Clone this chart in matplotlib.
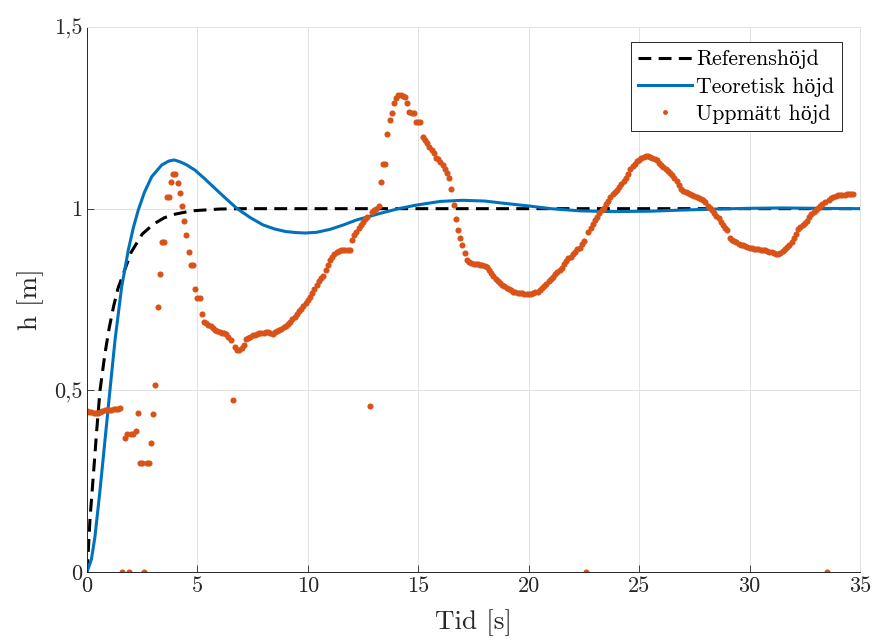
import matplotlib.pyplot as plt
import numpy as np

plt.rcParams['font.family'] = ['cmr10', 'Liberation Serif']
plt.rcParams['mathtext.fontset'] = 'cm'
plt.rcParams['axes.unicode_minus'] = False

# referenshöjd
t_ref = [0, 0.06, 0.14, 0.26, 0.44, 0.59, 0.81, 1.0, 1.2, 1.4, 1.64, 2.0, 2.5,
         3.0, 3.5, 4.0, 4.74, 6.0, 7.0, 35]
h_ref = [0, 0.06, 0.15, 0.244, 0.39, 0.50, 0.60, 0.67, 0.73, 0.78, 0.82, 0.88, 0.93,
         0.957, 0.975, 0.985, 0.994, 0.999, 1.0, 1.0]

# teoretisk höjd (simulerad)
t_teo = [0, 0.2, 0.36, 0.5, 0.59, 0.74, 0.89, 1.04, 1.27, 1.57, 1.87, 2.1, 2.32,
         2.6, 2.93, 3.38, 3.7, 3.95, 4.21, 4.5, 4.89, 5.3, 5.72, 6.25, 6.78, 7.4,
         7.98, 8.5, 9.0, 9.5, 9.9, 10.4, 11.0, 11.6, 12.21, 13.27, 14.1, 14.93,
         16.0, 17.0, 18.0, 18.85, 20.06, 21.0, 22.32, 23.83, 25.5, 26.85, 28.5,
         30, 31.5, 33, 35]
h_teo = [0, 0.035, 0.097, 0.175, 0.226, 0.317, 0.409, 0.501, 0.639, 0.785, 0.886,
         0.948, 0.996, 1.045, 1.088, 1.120, 1.131, 1.134, 1.129, 1.121, 1.106,
         1.084, 1.060, 1.030, 1.001, 0.975, 0.955, 0.944, 0.937, 0.934, 0.933,
         0.935, 0.943, 0.955, 0.969, 0.987, 1.000, 1.010, 1.020, 1.023, 1.021,
         1.015, 1.007, 1.000, 0.994, 0.992, 0.993, 0.996, 0.999, 1.001, 1.002,
         1.001, 1.000]

# uppmätt höjd, ett sampel var 0.1 s (en rad per sekund)
h_meas = [
    0.443, 0.441, 0.440, 0.438, 0.437, 0.438, 0.441, 0.444, 0.446, 0.447,
    0.447, 0.447, 0.448, 0.448, 0.450, 0.451, 0.0, 0.368, 0.379, 0.0,
    0.379, 0.380, 0.388, 0.437, 0.299, 0.299, 0.0, 0.299, 0.299, 0.354,
    0.434, 0.515, 0.728, 0.819, 0.907, 0.907, 1.033, 1.033, 1.074, 1.095,
    1.095, 1.070, 1.042, 1.008, 0.967, 0.927, 0.882, 0.845, 0.845, 0.778,
    0.753, 0.753, 0.710, 0.689, 0.684, 0.680, 0.677, 0.671, 0.667, 0.664,
    0.660, 0.658, 0.657, 0.655, 0.646, 0.638, 0.473, 0.618, 0.611, 0.611,
    0.616, 0.625, 0.640, 0.645, 0.648, 0.652, 0.652, 0.655, 0.657, 0.657,
    0.658, 0.660, 0.661, 0.657, 0.656, 0.660, 0.663, 0.666, 0.669, 0.673,
    0.678, 0.683, 0.689, 0.695, 0.702, 0.710, 0.718, 0.725, 0.733, 0.741,
    0.749, 0.758, 0.769, 0.780, 0.790, 0.800, 0.810, 0.816, 0.832, 0.845,
    0.859, 0.866, 0.874, 0.880, 0.884, 0.886, 0.886, 0.886, 0.886, 0.886,
    0.915, 0.928, 0.937, 0.946, 0.955, 0.962, 0.971, 0.978, 0.457, 0.990,
    0.995, 1.000, 1.008, 1.074, 1.123, 1.123, 1.205, 1.244, 1.262, 1.292,
    1.305, 1.313, 1.313, 1.310, 1.306, 1.290, 1.267, 1.262, 1.262, 1.239,
    1.239, 1.239, 1.198, 1.190, 1.182, 1.171, 1.162, 1.152, 1.140, 1.136,
    1.128, 1.120, 1.108, 1.098, 1.085, 1.054, 1.010, 0.971, 0.941, 0.918,
    0.900, 0.879, 0.859, 0.853, 0.851, 0.849, 0.848, 0.847, 0.846, 0.845,
    0.843, 0.840, 0.832, 0.823, 0.815, 0.807, 0.800, 0.795, 0.791, 0.787,
    0.783, 0.778, 0.775, 0.772, 0.770, 0.769, 0.768, 0.767, 0.766, 0.765,
    0.764, 0.765, 0.767, 0.770, 0.772, 0.776, 0.782, 0.788, 0.794, 0.800,
    0.806, 0.813, 0.819, 0.826, 0.831, 0.838, 0.848, 0.857, 0.863, 0.868,
    0.874, 0.880, 0.888, 0.893, 0.902, 0.912, 0.0, 0.937, 0.948, 0.958,
    0.969, 0.978, 0.987, 0.995, 1.002, 1.012, 1.022, 1.032, 1.040, 1.047,
    1.052, 1.060, 1.069, 1.077, 1.085, 1.095, 1.108, 1.117, 1.124, 1.130,
    1.135, 1.139, 1.142, 1.144, 1.144, 1.142, 1.140, 1.138, 1.134, 1.127,
    1.120, 1.114, 1.108, 1.103, 1.098, 1.092, 1.084, 1.077, 1.066, 1.054,
    1.050, 1.046, 1.043, 1.041, 1.038, 1.035, 1.033, 1.030, 1.027, 1.024,
    1.017, 1.008, 1.002, 0.995, 0.988, 0.980, 0.973, 0.964, 0.955, 0.948,
    0.940, 0.918, 0.914, 0.911, 0.908, 0.904, 0.901, 0.899, 0.896, 0.894,
    0.892, 0.891, 0.890, 0.889, 0.888, 0.887, 0.886, 0.885, 0.884, 0.882,
    0.880, 0.878, 0.876, 0.874, 0.878, 0.884, 0.889, 0.895, 0.900, 0.908,
    0.918, 0.930, 0.943, 0.950, 0.955, 0.960, 0.967, 0.978, 0.986, 0.991,
    0.996, 1.001, 1.007, 1.013, 1.018, 0.0, 1.025, 1.028, 1.032, 1.035,
    1.037, 1.038, 1.038, 1.038, 1.039, 1.039, 1.039, 1.039,
]
t_meas = np.round(np.arange(len(h_meas)) * 0.1, 1)

x_ticks = [0, 5, 10, 15, 20, 25, 30, 35]
y_ticks = [0, 0.5, 1, 1.5]
y_ticklabels = ['0', '0,5', '1', '1,5']

fig = plt.figure(figsize=(8.72, 6.4), dpi=100)
ax = fig.add_axes([87/872, 1 - 572/640, (860 - 87)/872, (572 - 27)/640])

ax.plot(t_ref, h_ref, color='black', lw=2.2, dashes=(4.2, 2.4),
        label='Referenshöjd')
ax.plot(t_teo, h_teo, color='#0072BD', lw=2.2, label='Teoretisk höjd')
ax.plot(t_meas, h_meas, 'o', color='#D95319', ms=4.4, mew=0,
        label='Uppmätt höjd')

ax.set_xlim(0, 35)
ax.set_ylim(0, 1.5)
ax.set_xticks(x_ticks)
ax.set_xticklabels([str(x) for x in x_ticks])
ax.set_yticks(y_ticks)
ax.set_yticklabels(y_ticklabels)
ax.tick_params(direction='in', length=5, width=0.6, labelsize=16,
               color='#262626', labelcolor='#262626')
ax.grid(True, color='#e3e3e3', lw=0.7)
ax.set_axisbelow(True)

for side in ['left', 'bottom']:
    ax.spines[side].set_color('#262626')
    ax.spines[side].set_linewidth(0.7)
for side in ['top', 'right']:
    ax.spines[side].set_color('#e3e3e3')
    ax.spines[side].set_linewidth(0.7)

ax.set_xlabel('Tid [s]', fontsize=19.5, color='#262626', labelpad=9)
ax.set_ylabel('h [m]', fontsize=19.5, color='#262626', labelpad=7)

leg = ax.legend(loc='upper right', bbox_to_anchor=(0.9767, 0.9725),
                borderaxespad=0, fontsize=15.7, handlelength=2.45,
                handletextpad=0.2, labelspacing=0.36, borderpad=0.35,
                fancybox=False, framealpha=1, markerscale=0.8)
leg.get_frame().set_edgecolor('#262626')
leg.get_frame().set_linewidth(0.7)

fig.savefig('out.png', dpi=100)
